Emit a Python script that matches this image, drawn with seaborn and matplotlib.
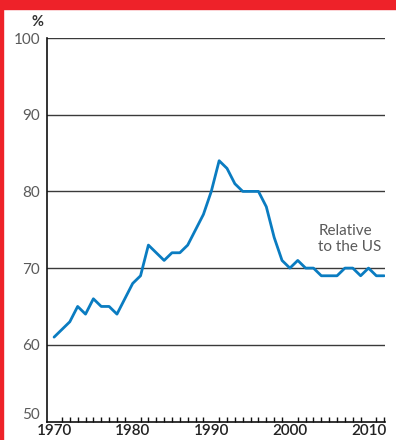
import matplotlib
matplotlib.use("Agg")
import matplotlib.pyplot as plt
from matplotlib.patches import Rectangle
from matplotlib.ticker import MultipleLocator
import pandas as pd
import seaborn as sns

years = list(range(1970, 2013))
relative_to_us = [61, 62, 63, 65, 64, 66, 65, 65, 64, 66,
                  68, 69, 73, 72, 71, 72, 72, 73, 75, 77,
                  80, 84, 83, 81, 80, 80, 80, 78, 74, 71,
                  70, 71, 70, 70, 69, 69, 69, 70, 70, 69,
                  70, 69, 69]
y_ticks = [50, 60, 70, 80, 90, 100]
x_ticks = [1970, 1980, 1990, 2000, 2010]
note = "Relative\nto the US"

df = pd.DataFrame({"year": years, "pct": relative_to_us})

sns.set_style("white")
plt.rcParams["font.family"] = ["Lato", "DejaVu Sans"]

fig = plt.figure(figsize=(3.96, 4.4), dpi=100)
ax = fig.add_axes([47 / 396, 1 - 421.5 / 440, 338 / 396, 383.5 / 440])

# red frame accents
fig.patches.append(Rectangle((0, 1 - 9 / 440), 1, 9 / 440, transform=fig.transFigure,
                             color="#ee2229", zorder=10))
fig.patches.append(Rectangle((0, 0), 3 / 396, 1, transform=fig.transFigure,
                             color="#ee2229", zorder=10))

for v in y_ticks[1:]:
    ax.axhline(v, color="#3a3a3a", lw=1.0, zorder=1)

sns.lineplot(data=df, x="year", y="pct", ax=ax, color="#0a7cc1", lw=2.0, zorder=3)

ax.set_xlim(1969.1, 2012.1)
ax.set_ylim(50, 100)
ax.set_xlabel("")
ax.set_ylabel("")

for side in ["top", "right"]:
    ax.spines[side].set_visible(False)
for side in ["left", "bottom"]:
    ax.spines[side].set_color("#111111")
    ax.spines[side].set_linewidth(1.2)

ax.set_yticks(y_ticks)
ax.set_yticklabels([str(v) for v in y_ticks], color="#5a5a5a", fontsize=11)
ax.tick_params(axis="y", length=0, pad=5)
ax.get_yticklabels()[0].set_verticalalignment("bottom")

ax.set_xticks(x_ticks)
ax.set_xticklabels([str(v) for v in x_ticks], color="#222222", fontsize=11,
                   fontweight="semibold")
ax.xaxis.set_minor_locator(MultipleLocator(1))
ax.tick_params(axis="x", which="major", direction="in", length=6, width=1.2,
               color="#111111", pad=1.5)
ax.tick_params(axis="x", which="minor", direction="in", length=3.5, width=1.0,
               color="#111111", bottom=True)

ax.text(-0.028, 1.024, "%", transform=ax.transAxes, ha="center", va="bottom",
        fontsize=10.5, fontweight="bold", color="#333333")
ax.text(2003.6, 73.8, note, ha="left", va="center", fontsize=11,
        color="#5a5a5a", linespacing=1.15)

fig.savefig("out.png", dpi=100)
